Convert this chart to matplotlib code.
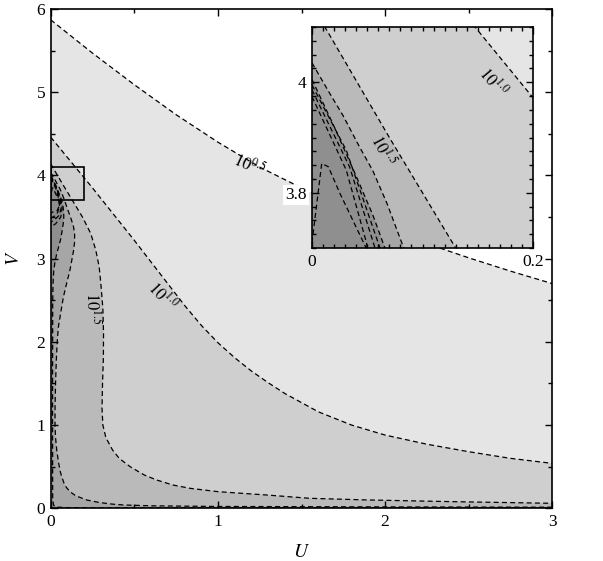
import numpy as np
import matplotlib
matplotlib.use('Agg')
import matplotlib.pyplot as plt
from matplotlib.ticker import MultipleLocator, FixedLocator
from matplotlib.patches import Rectangle

plt.rcParams['font.family'] = ['Liberation Serif', 'DejaVu Serif']
plt.rcParams['mathtext.fontset'] = 'stix'

# ---- contour curves (U, V) ----
c05_u = [0.0, 0.25, 0.5, 0.75, 1.0, 1.25, 1.5, 1.75, 2.0, 2.25, 2.5, 2.75, 3.0]
c05_v = [5.87, 5.47, 5.09, 4.73, 4.40, 4.10, 3.85, 3.60, 3.38, 3.18, 3.01, 2.85, 2.70]

c10_u = [0.0, 0.25, 0.5, 0.6, 0.7, 0.8, 0.9, 1.0, 1.1, 1.2, 1.3, 1.4, 1.6, 1.8,
         2.0, 2.25, 2.5, 2.75, 3.0]
c10_v = [4.46, 3.85, 3.22, 2.96, 2.70, 2.44, 2.20, 1.99, 1.81, 1.65, 1.51, 1.38, 1.16, 1.00,
         0.88, 0.77, 0.68, 0.60, 0.54]

c15_u = [0.0, 0.07, 0.13, 0.19, 0.24, 0.27, 0.29, 0.30, 0.312, 0.316, 0.315, 0.31,
         0.307, 0.312, 0.33, 0.37, 0.41, 0.475, 0.56, 0.634, 0.73, 0.834, 1.0, 1.29,
         1.55, 1.9, 2.4, 3.0]
c15_v = [4.14, 3.90, 3.70, 3.50, 3.30, 3.10, 2.90, 2.70, 2.40, 2.10, 1.80, 1.50,
         1.20, 1.00, 0.85, 0.70, 0.60, 0.50, 0.40, 0.34, 0.28, 0.24, 0.20, 0.16,
         0.12, 0.10, 0.08, 0.06]

c20_u = [0.0, 0.016, 0.028, 0.043, 0.055, 0.068, 0.083, 0.10, 0.118, 0.135, 0.143,
         0.143, 0.137, 0.128, 0.115, 0.095, 0.076, 0.06, 0.046, 0.039, 0.034, 0.029,
         0.026, 0.026, 0.029, 0.036, 0.047, 0.056, 0.066, 0.08, 0.094, 0.115, 0.15,
         0.215, 0.29, 0.37, 0.435, 0.6, 1.0, 2.0, 3.0]
c20_v = [4.035, 3.98, 3.94, 3.883, 3.84, 3.78, 3.70, 3.60, 3.50, 3.40, 3.30,
         3.20, 3.10, 3.00, 2.86, 2.70, 2.54, 2.35, 2.18, 2.00, 1.80, 1.50,
         1.20, 0.98, 0.85, 0.70, 0.55, 0.45, 0.38, 0.30, 0.25, 0.20, 0.15,
         0.10, 0.07, 0.05, 0.04, 0.03, 0.022, 0.017, 0.013]

c25_u = [0.0, 0.02, 0.04, 0.055, 0.066, 0.074, 0.078, 0.078, 0.075, 0.068, 0.058,
         0.046, 0.035, 0.025, 0.018, 0.014, 0.012, 0.011, 0.012, 0.017, 0.03, 0.1,
         0.3, 3.0]
c25_v = [4.005, 3.92, 3.83, 3.76, 3.70, 3.62, 3.55, 3.48, 3.42, 3.33, 3.22,
         3.13, 3.05, 2.95, 2.85, 2.70, 2.50, 1.00, 0.10, 0.04, 0.015, 0.008,
         0.005, 0.004]

# inner contours (all inside the darkest shade)
k1_u = [0.0, 0.031, 0.0615, 0.068, 0.06, 0.03, 0.0]
k1_v = [3.995, 3.877, 3.70, 3.6, 3.5, 3.42, 3.38]
k2_u = [0.0, 0.034, 0.057, 0.062, 0.05, 0.02, 0.0]
k2_v = [3.986, 3.847, 3.70, 3.6, 3.52, 3.46, 3.44]
k3_u = [0.0, 0.031, 0.0495, 0.053, 0.04, 0.015, 0.0]
k3_v = [3.974, 3.841, 3.708, 3.62, 3.55, 3.5, 3.49]
k4_u = [0.0, 0.0088, 0.0148, 0.025, 0.037, 0.049, 0.052, 0.04, 0.0]
k4_v = [3.71, 3.853, 3.847, 3.80, 3.75, 3.70, 3.64, 3.58, 3.55]

levels = [(c05_u, c05_v, '#e5e5e5'),
          (c10_u, c10_v, '#cfcfcf'),
          (c15_u, c15_v, '#bababa'),
          (c20_u, c20_v, '#a6a6a6'),
          (c25_u, c25_v, '#8f8f8f')]
inner = [(k1_u, k1_v), (k2_u, k2_v), (k3_u, k3_v), (k4_u, k4_v)]

DASH = (0, (4, 2.6))


def draw(ax):
    for u, v, col in levels:
        u = np.asarray(u); v = np.asarray(v)
        ax.fill(np.r_[u, u[-1], u[0]], np.r_[v, 0.0, 0.0], color=col, lw=0, zorder=1)
    for u, v, col in levels:
        ax.plot(u, v, color='black', lw=0.9, ls=DASH, zorder=2)
    for u, v in inner:
        ax.plot(u, v, color='black', lw=0.9, ls=DASH, zorder=2)


fig = plt.figure(figsize=(6.03, 5.61), dpi=100)
ax = fig.add_axes([50.7/603, 1-508.3/561, (552.3-50.7)/603, (508.3-9)/561])
draw(ax)
ax.set_xlim(0, 3)
ax.set_ylim(0, 6)
ax.xaxis.set_major_locator(MultipleLocator(1))
ax.xaxis.set_minor_locator(MultipleLocator(0.5))
ax.yaxis.set_major_locator(MultipleLocator(1))
ax.yaxis.set_minor_locator(MultipleLocator(0.5))
ax.tick_params(which='both', direction='in', top=True, right=True, labelsize=12.5)
ax.tick_params(which='major', length=5, width=1, pad=4)
ax.tick_params(which='minor', length=3, width=1)
for s in ax.spines.values():
    s.set_linewidth(1.2)
ax.set_xlabel('$U$', fontsize=14, labelpad=10)
ax.set_ylabel('$V$', fontsize=14, labelpad=10)

ax.add_patch(Rectangle((0, 3.7), 0.2, 0.4, fill=False, ec='black', lw=1.2, zorder=3))

ax.text(1.19, 4.12, r'$10^{0.5}$', rotation=-24, ha='center', va='center', fontsize=12, zorder=4)
ax.text(0.667, 2.55, r'$10^{1.0}$', rotation=-47, ha='center', va='center', fontsize=12, zorder=4)
ax.text(0.25, 2.40, r'$10^{1.5}$', rotation=-90, ha='center', va='center', fontsize=12, zorder=4)

# inset
axi = fig.add_axes([312/603, 1-248/561, (533-312)/603, (248-27)/561])
draw(axi)
axi.set_xlim(0, 0.2)
axi.set_ylim(3.7, 4.1)
axi.xaxis.set_major_locator(FixedLocator([0, 0.2]))
axi.xaxis.set_minor_locator(MultipleLocator(0.01))
axi.yaxis.set_major_locator(FixedLocator([3.8, 4.0]))
axi.yaxis.set_minor_locator(MultipleLocator(0.025))
axi.set_xticklabels(['0', '0.2'])
axi.set_yticklabels(['3.8', '4'])
axi.tick_params(which='both', direction='in', top=True, right=True, labelsize=12.5)
axi.tick_params(which='major', length=5, width=1, pad=4)
axi.tick_params(which='minor', length=3, width=1)
for s in axi.spines.values():
    s.set_linewidth(1.2)
axi.get_yticklabels()[0].set_bbox(dict(facecolor='white', edgecolor='none', pad=1.5))
axi.text(0.164, 4.0, r'$10^{1.0}$', rotation=-50, ha='center', va='center', fontsize=12, zorder=4)
axi.text(0.064, 3.877, r'$10^{1.5}$', rotation=-62, ha='center', va='center', fontsize=12, zorder=4)

fig.savefig('out.png', dpi=100)
